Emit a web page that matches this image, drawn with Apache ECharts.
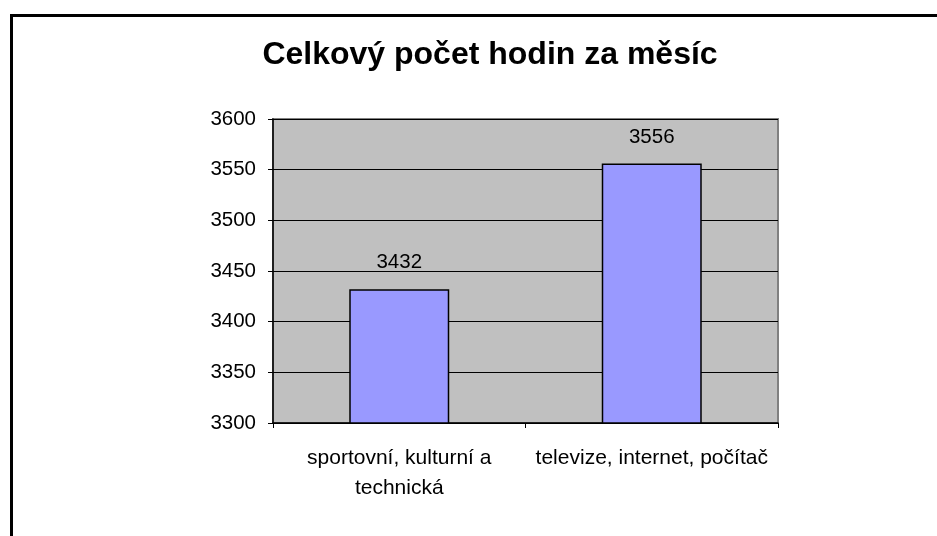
<!DOCTYPE html>
<html>
<head>
<meta charset="utf-8">
<script src="https://cdn.jsdelivr.net/npm/echarts@6/dist/echarts.min.js"></script>
<style>
html,body{margin:0;padding:0;background:#fff;}
#chart{width:937px;height:536px;}
</style>
</head>
<body>
<div id="chart"></div>
<script>
const titleText = 'Celkový počet hodin za měsíc';
const categories = ['sportovní, kulturní a technická', 'televize, internet, počítač'];
const values = [3432, 3556];
const yMin = 3300, yMax = 3600, yStep = 50;

const font = '"Liberation Sans", Arial, sans-serif';
const chart = echarts.init(document.getElementById('chart'));
chart.setOption({
  animation: false,
  backgroundColor: '#fff',
  title: {
    text: titleText,
    left: 485, top: 34, textAlign: 'center',
    textStyle: {fontFamily: font, fontSize: 32, fontWeight: 'bold', color: '#000'}
  },
  graphic: [{
    type: 'rect', left: 9, top: 13,
    shape: {width: 960, height: 560},
    style: {fill: 'none', stroke: '#000', lineWidth: 3},
    z: 100
  }],
  grid: {
    left: 273, top: 119, width: 505, height: 304,
    show: true, backgroundColor: '#C0C0C0', borderColor: '#808080', borderWidth: 2
  },
  xAxis: {
    type: 'category', data: categories,
    axisLine: {lineStyle: {color: '#000', width: 1.5}},
    axisTick: {show: true, length: 5, interval: 0, lineStyle: {color: '#000'}},
    axisLabel: {
      interval: 0, hideOverlap: false,
      fontFamily: font, fontSize: 21, color: '#000', margin: 20, lineHeight: 30,
      formatter: v => v.replace('kulturní a ', 'kulturní a\n')
    }
  },
  yAxis: {
    type: 'value', min: yMin, max: yMax, interval: yStep,
    axisLine: {show: true, lineStyle: {color: '#000', width: 1.5}},
    axisTick: {show: true, length: 5, lineStyle: {color: '#000'}},
    splitLine: {show: true, lineStyle: {color: '#000', width: 1}},
    axisLabel: {fontFamily: font, fontSize: 20.5, color: '#000', margin: 17, formatter: v => String(v)}
  },
  series: [{
    type: 'bar', data: values, barWidth: 100,
    itemStyle: {color: '#9999FF', borderColor: '#000', borderWidth: 1.5},
    label: {show: true, position: 'top', distance: 16, fontFamily: font, fontSize: 20.5, color: '#000'}
  }]
});
</script>
</body>
</html>
